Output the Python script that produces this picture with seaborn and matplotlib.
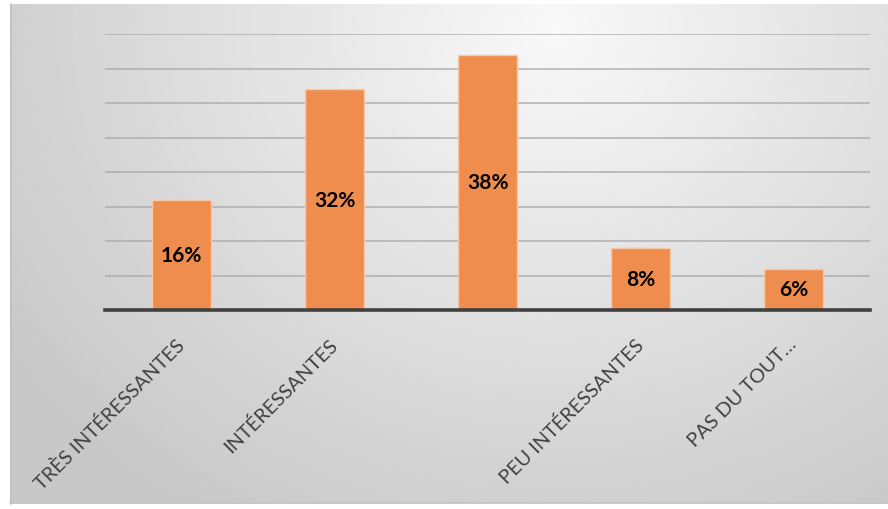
import numpy as np
import pandas as pd
import matplotlib
matplotlib.use("Agg")
import matplotlib.pyplot as plt
import matplotlib.transforms as mtransforms
import seaborn as sns

categories = ["TRÈS INTÉRESSANTES", "INTÉRESSANTES", " ", "PEU INTÉRESSANTES", "PAS DU TOUT…"]
values = [16, 32, 37, 9, 6]
value_labels = ["16%", "32%", "38%", "8%", "6%"]

sns.set_theme(style="white")
plt.rcParams['font.family'] = ['Lato', 'DejaVu Sans']

W, H = 888, 510
fig = plt.figure(figsize=(W / 100, H / 100), dpi=100)
fig.patch.set_facecolor("white")

# gradient background panel
bg = fig.add_axes([10 / W, 5 / H, 878 / W, 500 / H])
bg.set_axis_off()
gx, gy = np.meshgrid(np.linspace(0, 1, 400), np.linspace(0, 1, 240))
d = np.sqrt(((gx - 0.62) / 0.75) ** 2 + ((gy - 0.05) / 1.15) ** 2)
d = np.clip(d, 0, 1)
shade = 0.975 - 0.19 * d
bg.imshow(shade, cmap="gray", vmin=0, vmax=1, aspect="auto",
          extent=[0, 1, 1, 0], interpolation="bilinear")
bg.set_xlim(0, 1)
bg.set_ylim(1, 0)
bg.plot([0, 1], [0.002, 0.002], color="#c6c6c6", lw=1.2, transform=bg.transAxes, clip_on=False)
bg.plot([0.0015, 0.0015], [0, 1], color="#c0c0c0", lw=1.2, transform=bg.transAxes, clip_on=False)

ax = fig.add_axes([105 / W, (H - 311) / H, 765 / W, 276 / H])
ax.patch.set_alpha(0)
df = pd.DataFrame({"cat": categories, "val": values})
sns.barplot(data=df, x="cat", y="val", order=categories, hue="cat",
            palette=["#EE8D4E"] * len(categories), legend=False, saturation=1,
            width=0.39, edgecolor="#f6c9aa", linewidth=1.0, ax=ax, zorder=3)
ax.set_ylim(0, 40)
ax.set_yticks(np.arange(5, 41, 5))
ax.yaxis.grid(True, color="#a8a8a8", linewidth=1.3, alpha=0.75, zorder=0)
ax.set_axisbelow(True)
ax.tick_params(axis="y", left=False, labelleft=False)
for s in ["top", "right", "left"]:
    ax.spines[s].set_visible(False)
ax.spines["bottom"].set_color("#404040")
ax.spines["bottom"].set_linewidth(2.6)
ax.spines["bottom"].set_zorder(5)
ax.set_xlabel("")
ax.set_ylabel("")
ax.set_xlim(-0.5, len(categories) - 0.5)

for p, lab in zip(ax.patches, value_labels):
    x = p.get_x() + p.get_width() / 2
    ax.text(x, p.get_height() / 2, lab, ha="center", va="center",
            fontsize=15, fontweight="bold", color="black", zorder=6)

ax.set_xticks(range(len(categories)))
ax.set_xticklabels(categories, rotation=45, ha="right", rotation_mode="anchor",
                   fontsize=14.3, color="#404040")
ax.tick_params(axis="x", bottom=False, pad=12)
shift = mtransforms.ScaledTranslation(-6 / 100, 0, fig.dpi_scale_trans)
for t in ax.get_xticklabels():
    t.set_transform(t.get_transform() + shift)

fig.savefig("out.png", dpi=100)
